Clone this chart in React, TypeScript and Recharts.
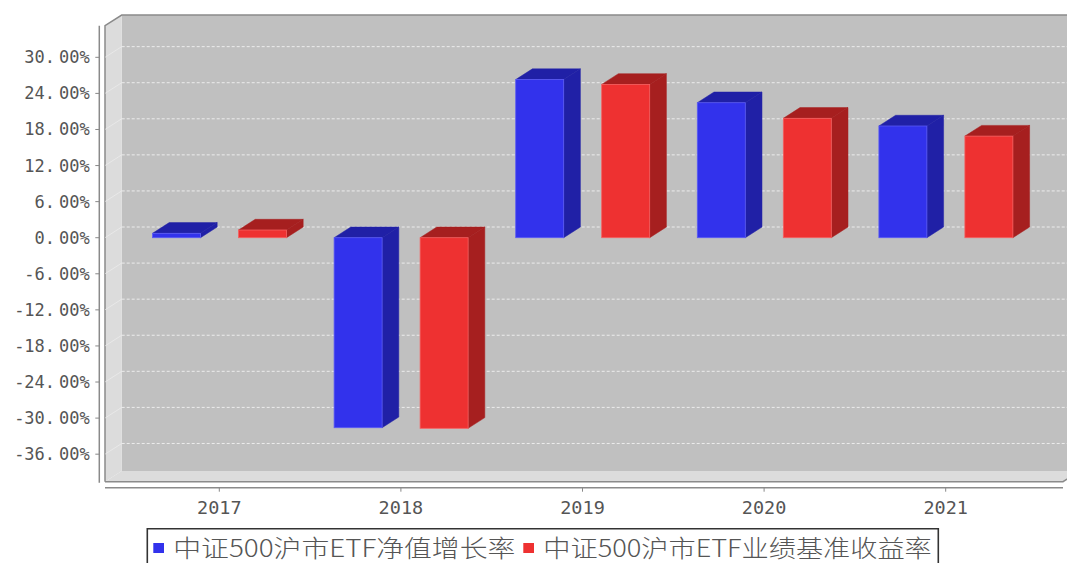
import React from 'react'
import { BarChart, Bar, XAxis, YAxis, CartesianGrid, Legend } from 'recharts'

// values (percent)
const years = ['2017', '2018', '2019', '2020', '2021']
const navGrowth = [0.73, -31.6, 26.3, 22.45, 18.58]
const benchmarkReturn = [1.28, -31.7, 25.5, 19.86, 16.9]
const seriesNames = ['中证500沪市ETF净值增长率', '中证500沪市ETF业绩基准收益率']
const yTicks = [-36, -30, -24, -18, -12, -6, 0, 6, 12, 18, 24, 30]
const yDomain = [-40.58, 35.26]

const chartData = years.map((year, i) => ({
  year,
  nav: navGrowth[i],
  bench: benchmarkReturn[i],
}))

// layout of the pseudo-3D plot
const W = 1067
const H = 563
const PL = 105 // front face of the plot
const PT = 25.7
const PR = 1063
const PB = 481.7
const DX = 16.7 // depth offset
const DY = 10.7
const AXIS_X = 99.3
const LEGEND_H = 34.7
const XAXIS_H = H - LEGEND_H - PB

const BLUE = { front: '#3232ec', side: '#2020a6', edge: '#5b5bf5' }
const RED = { front: '#ee3131', side: '#a61f1f', edge: '#f56060' }

const TEXT = '#555555'
const MONO = '"DejaVu Sans Mono", "Liberation Mono", monospace'

function bar3d(colors: { front: string; side: string; edge: string }) {
  return (props: any) => {
    const { x, y, width, height } = props
    if (x == null || y == null) return <g />
    const top = Math.min(y, y + height)
    const bottom = Math.max(y, y + height)
    const right = x + width
    return (
      <g>
        <polygon
          points={`${x},${top} ${x + DX},${top - DY} ${right + DX},${top - DY} ${right},${top}`}
          fill={colors.side}
          stroke={colors.side}
          strokeWidth={0.5}
        />
        <polygon
          points={`${right},${top} ${right + DX},${top - DY} ${right + DX},${bottom - DY} ${right},${bottom}`}
          fill={colors.side}
          stroke={colors.side}
          strokeWidth={0.5}
        />
        <rect x={x} y={top} width={width} height={bottom - top} fill={colors.front} stroke={colors.edge} strokeWidth={0.8} />
      </g>
    )
  }
}

// gridlines are drawn on the back wall, with a faint diagonal across the side wall
function backGridLine(props: any) {
  const { x1, y1, x2, index } = props
  // skip the plot edges, only tick levels get a line
  if (Math.abs(y1 - PT) < 1.5 || Math.abs(y1 - PB) < 1.5) return <g key={`grid-${index}`} />
  return (
    <g key={`grid-${index}`}>
      <line x1={x1} y1={y1} x2={x1 + DX} y2={y1 - DY} stroke="#f0f0f0" strokeOpacity={0.6} strokeWidth={1} />
      <line
        x1={x1 + DX}
        y1={y1 - DY}
        x2={x2 + DX}
        y2={y1 - DY}
        stroke="#ececec"
        strokeWidth={1}
        strokeDasharray="3 2"
      />
    </g>
  )
}

function YTick(props: any) {
  const { y, payload } = props
  const [whole, frac] = payload.value.toFixed(2).split('.')
  return (
    <g>
      <line x1={AXIS_X - 4} x2={AXIS_X} y1={y} y2={y} stroke="#888" strokeWidth={1} />
      <text x={AXIS_X - 9.5} y={y + 6} textAnchor="end" fontFamily={MONO} fontSize={17} fill={TEXT}>
        <tspan>{`${whole}.`}</tspan>
        <tspan dx={4}>{`${frac}%`}</tspan>
      </text>
    </g>
  )
}

function XTick(props: any) {
  const { x, payload } = props
  return (
    <g>
      <line x1={x} x2={x} y1={PB + 6} y2={PB + 10} stroke="#888" strokeWidth={1} />
      <text x={x} y={PB + 32.5} textAnchor="middle" fontFamily={MONO} fontSize={18.5} fill={TEXT}>
        {payload.value}
      </text>
    </g>
  )
}

function LegendBox() {
  const left = 147.3
  const right = 938.3
  return (
    <div style={{ position: 'relative', width: W, height: LEGEND_H, overflow: 'hidden' }}>
      <svg width={W} height={LEGEND_H} style={{ display: 'block' }}>
        <path
          d={`M${left},${LEGEND_H + 2} L${left},0.8 L${right},0.8 L${right},${LEGEND_H + 2}`}
          fill="none"
          stroke="#333"
          strokeWidth={1.6}
        />
        <rect x={153.3} y={15} width={10.7} height={10} fill={BLUE.front} />
        <text
          x={173.3}
          y={28.5}
          fontFamily='"Noto Sans CJK SC", sans-serif'
          fontWeight={300}
          fontSize={24}
          fill={TEXT}
          textLength={342}
          lengthAdjust="spacingAndGlyphs"
        >
          {seriesNames[0]}
        </text>
        <rect x={523.3} y={15} width={10.7} height={10} fill={RED.front} />
        <text
          x={543.3}
          y={28.5}
          fontFamily='"Noto Sans CJK SC", sans-serif'
          fontWeight={300}
          fontSize={24}
          fill={TEXT}
          textLength={388.5}
          lengthAdjust="spacingAndGlyphs"
        >
          {seriesNames[1]}
        </text>
      </svg>
    </div>
  )
}

function Walls() {
  const bx = PL + DX
  const by = PT - DY
  return (
    <svg width={W} height={H} style={{ position: 'absolute', left: 0, top: 0 }}>
      <rect x={bx} y={by} width={PR - PL} height={PB - PT} fill="#c0c0c0" />
      <polygon points={`${PL},${PT} ${bx},${by} ${bx},${PB - DY} ${PL},${PB}`} fill="#dcdcdc" />
      <polygon points={`${PL},${PB} ${bx},${PB - DY} ${PR + DX},${PB - DY} ${PR},${PB}`} fill="#dcdcdc" />
      <path
        d={`M${PL},${PB} L${PL},${PT} L${bx},${by} L${PR + DX},${by}`}
        fill="none"
        stroke="#8a8a8a"
        strokeWidth={1.5}
      />
      <path d={`M${PL},${PB} L${PR},${PB} L${PR + DX},${PB - DY}`} fill="none" stroke="#8a8a8a" strokeWidth={1.5} />
      {/* axis lines sit slightly away from the plot frame */}
      <line x1={AXIS_X} y1={PT} x2={AXIS_X} y2={PB + 1} stroke="#8a8a8a" strokeWidth={1.5} />
      <line x1={PL} y1={PB + 6} x2={PR} y2={PB + 6} stroke="#8a8a8a" strokeWidth={1.5} />
    </svg>
  )
}

export default function App() {
  return (
    <div style={{ position: 'relative', width: W, height: H, overflow: 'hidden' }}>
      <style>{'html,body{margin:0;padding:0;overflow:hidden;}'}</style>
      <Walls />
      <div style={{ position: 'absolute', left: 0, top: 0 }}>
        <BarChart
          width={W}
          height={H}
          data={chartData}
          margin={{ top: PT, right: W - PR, left: 0, bottom: 0 }}
          barSize={48}
          barGap={38}
        >
          <CartesianGrid vertical={false} horizontal={backGridLine} />
          <XAxis
            dataKey="year"
            height={XAXIS_H}
            padding={{ left: 23.5, right: 26.5 }}
            axisLine={false}
            tickLine={false}
            tick={<XTick />}
            interval={0}
          />
          <YAxis
            width={PL}
            domain={yDomain}
            ticks={yTicks}
            allowDataOverflow
            axisLine={false}
            tickLine={false}
            tick={<YTick />}
            interval={0}
          />
          <Legend
            verticalAlign="bottom"
            align="left"
            wrapperStyle={{ left: 0, width: W, height: LEGEND_H }}
            content={() => <LegendBox />}
          />
          <Bar dataKey="nav" name={seriesNames[0]} fill={BLUE.front} shape={bar3d(BLUE)} isAnimationActive={false} />
          <Bar dataKey="bench" name={seriesNames[1]} fill={RED.front} shape={bar3d(RED)} isAnimationActive={false} />
        </BarChart>
      </div>
    </div>
  )
}
